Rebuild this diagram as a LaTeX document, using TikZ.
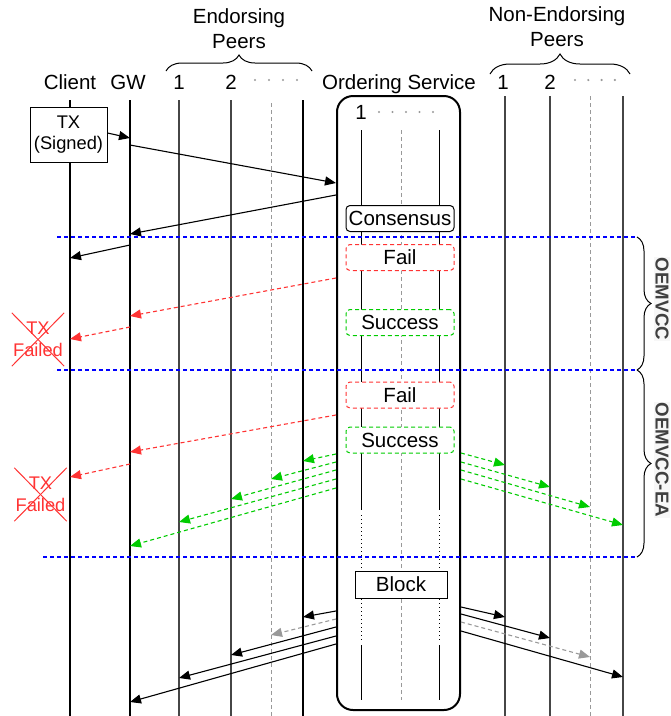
\documentclass[tikz,border=0pt]{standalone}
\usepackage{fontspec}
\setmainfont{Liberation Sans}
\usetikzlibrary{arrows.meta,positioning,decorations.pathreplacing,calc}
\definecolor{sqRed}  {RGB}{255, 51, 51}
\definecolor{sqGreen}{RGB}{  0,204,  0}
\definecolor{sqBlue} {RGB}{  0,  0,255}
\definecolor{sqGrey} {RGB}{153,153,153}
\definecolor{sqLine} {RGB}{ 70, 70, 70}
\definecolor{sqLabel}{RGB}{ 64, 64, 64}

\begin{document}
\begin{tikzpicture}[
  x=1pt,y=-1pt,
  font=\fontsize{20.5}{25}\selectfont,
  head/.style={anchor=base,inner sep=0pt},
  group/.style={anchor=base,align=center,inner sep=0pt},
  life/.style={line width=1.3pt},
  peer/.style={line width=1.3pt,color=sqLine},
  ghost/.style={line width=1pt,color=sqGrey,dash pattern=on 4pt off 3pt},
  phase/.style={line width=1.2pt,draw=sqBlue,dash pattern=on 4pt off 3pt},
  brc/.style={decorate,decoration={brace,amplitude=#1},line width=1pt},
  osbox/.style={rectangle,rounded corners=16pt,draw,line width=2pt,
                minimum width=123pt,minimum height=614pt,inner sep=0pt},
  stage/.style={rectangle,rounded corners=4pt,draw,fill=white,line width=1pt,
                minimum width=108pt,minimum height=26pt,inner sep=0pt},
  failbox/.style={stage,draw=sqRed,dash pattern=on 4pt off 3pt},
  okbox/.style={stage,draw=sqGreen,dash pattern=on 4pt off 3pt},
  blockbox/.style={stage,sharp corners,minimum width=92pt,minimum height=27pt},
  txbox/.style={rectangle,draw,fill=white,line width=1pt,align=center,
                minimum width=77pt,minimum height=55pt,inner sep=0pt,
                font=\fontsize{18.3}{21}\selectfont},
  failed/.style={rectangle,align=center,text=sqRed,inner sep=0pt,
                 minimum width=52pt,minimum height=53pt,
                 font=\fontsize{18.3}{22}\selectfont},
  cross/.style={line width=1pt,color=sqRed},
  mode/.style={rotate=-90,fill=black!3,text=sqLabel,inner sep=1pt,
               font=\fontsize{18.7}{22}\selectfont\bfseries},
  msg/.style={line width=1.1pt,-{Triangle[length=11pt,width=9pt]}},
  failmsg/.style={msg,color=sqRed,dash pattern=on 4pt off 3pt},
  okmsg/.style={msg,color=sqGreen,dash pattern=on 4pt off 3pt},
  dimmsg/.style={msg,color=sqGrey,dash pattern=on 4pt off 3pt}
]
\useasboundingbox (0,0) rectangle (671,716);

% --- Lifelines
\foreach \n/\x/\y/\st in {cl/70/100/life, gw/130/100/life, e1/179/100/peer,
    e2/231/100/peer, e3/271/103/ghost, e4/303/100/life, n1/505/96/peer,
    n2/550/96/peer, n3/590/96/ghost, n4/623/96/peer}
  {\coordinate (\n) at (\x,\y);
   \draw[\st] (\n) -- (\x,716);}

% --- Headers
\node[head] (lcl) at (70,89)  {Client};
\node[head] (lgw) at (128,89) {GW};
\node[head] (le1) at (179,89) {1};
\node[head] (le2) at (231,89) {2};
\node[head] (los) at (399,89) {Ordering Service};
\node[head] (ln1) at (503,89) {1};
\node[head] (ln2) at (550,89) {2};
\foreach \i in {0,...,3} {
  \fill[sqGrey] (255+14*\i,80) circle (1.2pt);
  \fill[sqGrey] (575+13.3*\i,80) circle (1.2pt);}
\draw[brc=16pt] (166,71) -- (312,71);
\node[group] (gep) at (239,48) {Endorsing\\Peers};
\draw[brc=20pt] (490,74) -- (630,74);
\node[group] (gnp) at (557,46) {Non-Endorsing\\Peers};

% --- Ordering service
\node[osbox] (os) at (398.5,403) {};
\node[head] (los1) at (361,119) {1};
\foreach \i in {0,...,4}
  \fill[sqGrey] (379+13.5*\i,112) circle (1.2pt);
\foreach \x in {361,439} {
  \draw[line width=1pt] (\x,130) -- (\x,510);
  \draw[line width=1pt,dash pattern=on 1pt off 3pt] (\x,515) -- (\x,642);
  \draw[line width=1pt] (\x,645) -- (\x,700);}
\draw[ghost] (401,130) -- (401,700);

% --- Phase separators
\draw[phase] (57,237) -- (637,237);
\draw[phase] (57,370) -- (637,370);
\draw[phase] (43,557) -- (637,557);
\draw[brc=14pt] (637,237) -- (637,370);
\draw[brc=14pt] (637,370) -- (637,557);
\node[mode] (m1) at (662,299) {OEMVCC};
\node[mode] (m2) at (662,460) {OEMVCC-EA};

% --- Stages
\node[stage]    (cons) at (400,218.5) {Consensus};
\node[failbox]  (f1)   at (400,257.5) {Fail};
\node[okbox]    (s1)   at (400,322.5) {Success};
\node[failbox]  (f2)   at (400,395)   {Fail};
\node[okbox]    (s2)   at (400,440)   {Success};
\node[blockbox] (blk)  at (401,584.5) {Block};

% --- Client side
\node[txbox] (tx) at (68.5,134.5) {TX\\(Signed)};
\node[failed] (x1) at (38,339.5) {TX\\Failed};
\draw[cross] (x1.north west) -- (x1.south east);
\draw[cross] (x1.north east) -- (x1.south west);
\node[failed] (x2) at (40.5,494.5) {TX\\Failed};
\draw[cross] (x2.north west) -- (x2.south east);
\draw[cross] (x2.north east) -- (x2.south west);

% --- Submission
\draw[msg] (tx.east |- 0,133) -- (gw |- 0,138);
\draw[msg] (gw |- 0,145) -- (os.west |- 0,183);
\draw[msg] (os.west |- 0,195) -- (gw |- 0,234);
\draw[msg] (gw |- 0,245) -- (cl |- 0,258);

% --- Failures
\draw[failmsg] (os.west |- 0,278) -- (gw |- 0,316);
\draw[failmsg] (gw |- 0,327) -- (cl |- 0,339);
\draw[failmsg] (os.west |- 0,415) -- (gw |- 0,452);
\draw[failmsg] (gw |- 0,464) -- (cl |- 0,477);

% --- Early success
\foreach \s/\t/\e in {454/e4/461, 462/e3/479, 470/e2/499, 479/e1/522, 488/gw/546}
  \draw[okmsg] (os.west |- 0,\s) -- (\t |- 0,\e);
\foreach \s/\t/\e in {453/n1/465, 462/n2/487, 470/n3/507, 479/n4/525}
  \draw[okmsg] (os.east |- 0,\s) -- (\t |- 0,\e);

% --- Block delivery
\foreach \s/\t/\e/\st in {611/e4/617/msg, 619/e3/635/dimmsg, 627/e2/655/msg,
    636/e1/678/msg, 644/gw/702/msg}
  \draw[\st] (os.west |- 0,\s) -- (\t |- 0,\e);
\foreach \s/\t/\e/\st in {607/n1/617/msg, 614/n2/638/msg, 622/n3/657/dimmsg,
    631/n4/677/msg}
  \draw[\st] (os.east |- 0,\s) -- (\t |- 0,\e);
\end{tikzpicture}
\end{document}
